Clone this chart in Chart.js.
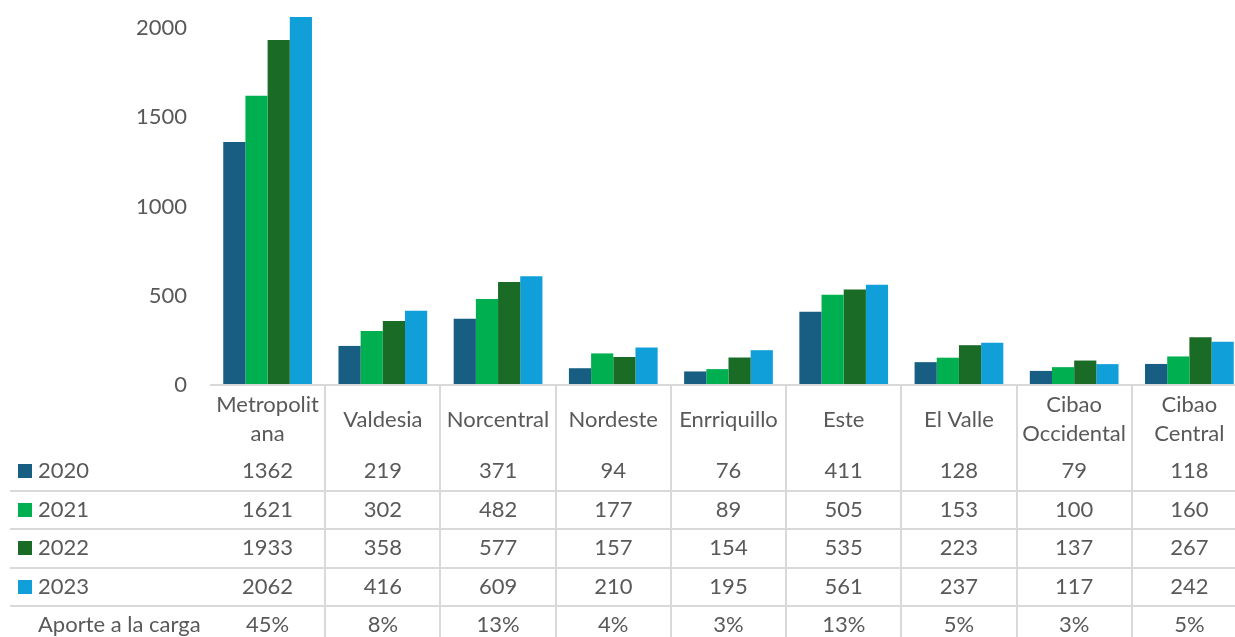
<!DOCTYPE html>
<html>
<head>
<meta charset="utf-8">
<script src="https://cdn.jsdelivr.net/npm/chart.js@4"></script>
<style>
  body { margin: 0; overflow: hidden; background: #fff; }
  canvas { display: block; }
</style>
</head>
<body>
<canvas id="chart" width="1250" height="637"></canvas>
<script>
// Regions (multi-line where the label wraps in the table)
const categories = [['Metropolit', 'ana'], 'Valdesia', 'Norcentral', 'Nordeste', 'Enrriquillo', 'Este', 'El Valle', ['Cibao', 'Occidental'], ['Cibao', 'Central']];
const years = ['2020', '2021', '2022', '2023'];
const values2020 = [1362, 219, 371, 94, 76, 411, 128, 79, 118];
const values2021 = [1621, 302, 482, 177, 89, 505, 153, 100, 160];
const values2022 = [1933, 358, 577, 157, 154, 535, 223, 137, 267];
const values2023 = [2062, 416, 609, 210, 195, 561, 237, 117, 242];
const aporteLabel = 'Aporte a la carga';
const aporte = ['45%', '8%', '13%', '4%', '3%', '13%', '5%', '3%', '5%'];
const yTicks = [0, 500, 1000, 1500, 2000];

const colors = ['#175E82', '#00B050', '#1A6B25', '#109FD8'];
const seriesValues = [values2020, values2021, values2022, values2023];

const textColor = '#595959';
const lineColor = '#D9D9D9';
const font = '22px Lato';

// Draws the Excel-style data table under the plot
const dataTable = {
    id: 'dataTable',
    afterDraw(chart) {
        const ctx = chart.ctx;
        const x = chart.scales.x;
        const area = chart.chartArea;
        const colW = (area.right - area.left) / categories.length;
        const rowTop = 452;
        const rowH = 38.5;
        const bottom = chart.height;

        ctx.save();
        // baseline
        ctx.strokeStyle = lineColor;
        ctx.lineWidth = 2;
        ctx.beginPath();
        ctx.moveTo(area.left, area.bottom);
        ctx.lineTo(chart.width, area.bottom);
        ctx.stroke();

        // vertical separators
        for (let i = 1; i <= categories.length; i++) {
            const px = Math.round(x.getPixelForValue(i) - colW / 2);
            ctx.beginPath();
            ctx.moveTo(px, area.bottom);
            ctx.lineTo(px, bottom);
            ctx.stroke();
        }
        // horizontal separators
        for (let r = 1; r <= years.length; r++) {
            const py = Math.round(rowTop + r * rowH);
            ctx.beginPath();
            ctx.moveTo(10, py);
            ctx.lineTo(chart.width, py);
            ctx.stroke();
        }

        ctx.font = font;
        ctx.fillStyle = textColor;
        ctx.textAlign = 'center';
        ctx.textBaseline = 'middle';

        // category labels
        const labelMid = (area.bottom + rowTop) / 2 + 1;
        categories.forEach((cat, i) => {
            const cx = x.getPixelForValue(i);
            const lines = Array.isArray(cat) ? cat : [cat];
            const lh = 29;
            lines.forEach((ln, k) => {
                ctx.fillText(ln, cx, labelMid + (k - (lines.length - 1) / 2) * lh);
            });
        });

        // year rows
        seriesValues.forEach((vals, r) => {
            const cy = rowTop + rowH * (r + 0.5);
            ctx.fillStyle = colors[r];
            ctx.fillRect(18, Math.round(cy - 7), 14, 14);
            ctx.fillStyle = textColor;
            ctx.textAlign = 'left';
            ctx.fillText(years[r], 38, cy);
            ctx.textAlign = 'center';
            vals.forEach((v, i) => ctx.fillText(String(v), x.getPixelForValue(i), cy));
        });

        // aporte row
        const ay = rowTop + rowH * (years.length + 0.5);
        ctx.textAlign = 'left';
        ctx.fillText(aporteLabel, 38, ay);
        ctx.textAlign = 'center';
        aporte.forEach((a, i) => ctx.fillText(a, x.getPixelForValue(i), ay));
        ctx.restore();
    }
};

new Chart(document.getElementById('chart'), {
    type: 'bar',
    data: {
        labels: categories.map(c => Array.isArray(c) ? c.join('') : c),
        datasets: years.map((y, i) => ({
            label: y,
            data: seriesValues[i],
            backgroundColor: colors[i],
            borderWidth: 0
        }))
    },
    options: {
        responsive: false,
        animation: false,
        devicePixelRatio: 1,
        layout: { padding: { top: 10, bottom: 252, right: 3 } },
        plugins: {
            legend: { display: false },
            tooltip: { enabled: false }
        },
        datasets: {
            bar: { categoryPercentage: 0.77, barPercentage: 1 }
        },
        scales: {
            x: { display: false },
            y: {
                min: 0,
                max: 2101,
                afterBuildTicks: scale => {
                    scale.ticks = yTicks.map(v => ({ value: v }));
                },
                afterFit: scale => {
                    scale.width = 210;
                    scale.paddingTop = 0;
                    scale.paddingBottom = 0;
                },
                grid: { display: false, drawTicks: false },
                border: { display: false },
                ticks: {
                    padding: 23,
                    color: textColor,
                    font: { family: 'Lato', size: 22 },
                    callback: v => String(v)
                }
            }
        }
    },
    plugins: [dataTable]
});
</script>
</body>
</html>
